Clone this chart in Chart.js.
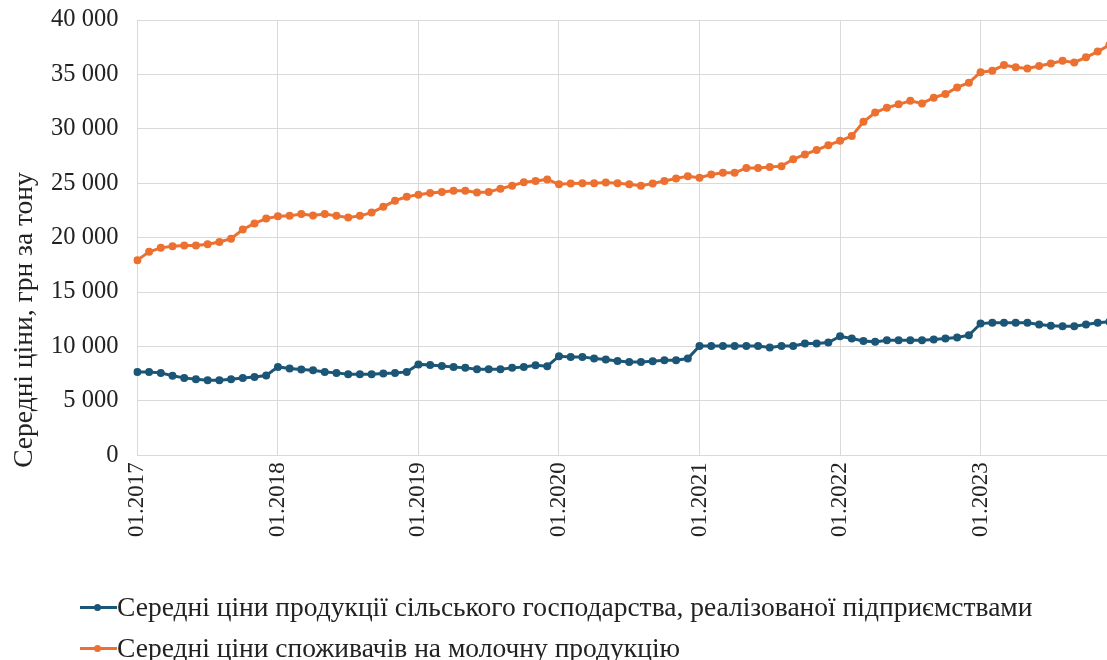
<!DOCTYPE html>
<html lang="uk">
<head>
<meta charset="utf-8">
<script src="https://cdn.jsdelivr.net/npm/chart.js@4.4.1/dist/chart.umd.min.js"></script>
<style>
    html, body { margin: 0; padding: 0; background: #fff; overflow: hidden; }
    #wrap { position: relative; width: 1144px; height: 660px; }
    #legend { position: absolute; left: 80px; top: 586px; font-family: 'Liberation Serif', 'Times New Roman', serif; font-size: 27.5px; color: #222; }
    .row { display: flex; align-items: center; height: 41px; white-space: nowrap; }
    .sym { position: relative; width: 37px; height: 20px; margin-right: 0; }
    .sym::before { content: ''; position: absolute; left: 0; right: 0; top: 9px; height: 3px; background: var(--c); }
    .sym::after { content: ''; position: absolute; left: 14px; top: 7px; width: 7px; height: 7px; border-radius: 50%; background: var(--c); }
</style>
</head>
<body>
<div id="wrap">
    <canvas id="chart"></canvas>
    <div id="legend"></div>
</div>
<script>
// --- data, monthly 01.2017 .. 12.2023 ---
const years = [2017, 2018, 2019, 2020, 2021, 2022, 2023];
const months = years.flatMap(y => Array.from({ length: 12 }, (_, i) => String(i + 1).padStart(2, '0') + '.' + y));

const producerPrices = [
    7660, 7660, 7570, 7300, 7110, 6990, 6900, 6900, 6990, 7110, 7200, 7330,
    8120, 7970, 7880, 7820, 7660, 7570, 7450, 7450, 7450, 7510, 7570, 7660,
    8350, 8300, 8210, 8120, 8030, 7900, 7900, 7900, 8030, 8120, 8280, 8180,
    9100, 9040, 9040, 8890, 8800, 8670, 8580, 8580, 8640, 8740, 8740, 8890,
    10050, 10050, 10050, 10050, 10050, 10050, 9900, 10050, 10050, 10270, 10270, 10360,
    10940, 10730, 10510, 10420, 10570, 10570, 10570, 10570, 10640, 10730, 10820, 11030,
    12100, 12170, 12170, 12170, 12170, 12020, 11900, 11860, 11860, 12020, 12170, 12260
];

const consumerPrices = [
    17930, 18700, 19060, 19200, 19280, 19280, 19400, 19600, 19900, 20750, 21300, 21750,
    21970, 22000, 22160, 22040, 22160, 22000, 21850, 22000, 22300, 22830, 23400, 23760,
    23950, 24100, 24200, 24300, 24300, 24150, 24200, 24500, 24770, 25100, 25200, 25350,
    24900, 24980, 25000, 25000, 25070, 25000, 24900, 24770, 24980, 25200, 25440, 25650,
    25500, 25800, 25960, 25960, 26400, 26400, 26500, 26570, 27200, 27650, 28050, 28500,
    28900, 29330, 30650, 31500, 31940, 32250, 32580, 32330, 32860, 33200, 33800, 34240,
    35200, 35340, 35860, 35650, 35550, 35770, 36000, 36260, 36100, 36570, 37100, 37700
];

const seriesNames = [
    'Середні ціни продукції сільського господарства, реалізованої підприємствами',
    'Середні ціни споживачів на молочну продукцію'
];
const seriesColors = ['#1b5677', '#ec7130'];
const yTicks = [0, 5000, 10000, 15000, 20000, 25000, 30000, 35000, 40000];
const yTitle = 'Середні ціни, грн за тону';

const serif = "'Liberation Serif', 'Times New Roman', serif";
const textColor = '#222';
const gridColor = '#d9d9d9';

const fmt = v => String(v).replace(/\B(?=(\d{3})+(?!\d))/g, ' ');

// y title drawn by hand so it sits where the original puts it
const yTitlePlugin = {
    id: 'yTitle',
    afterDraw(chart) {
        const ctx = chart.ctx;
        ctx.save();
        ctx.translate(25, 320);
        ctx.rotate(-Math.PI / 2);
        ctx.font = '27.5px ' + serif;
        ctx.fillStyle = textColor;
        ctx.textAlign = 'center';
        ctx.textBaseline = 'middle';
        ctx.fillText(yTitle, 0, 0);
        ctx.restore();
    }
};

const ctx = document.getElementById('chart').getContext('2d');
new Chart(ctx, {
    type: 'line',
    data: {
        labels: months,
        datasets: [producerPrices, consumerPrices].map((d, i) => ({
            label: seriesNames[i],
            data: d,
            borderColor: seriesColors[i],
            backgroundColor: seriesColors[i],
            borderWidth: 3,
            pointRadius: 4,
            pointBorderWidth: 0,
            tension: 0
        }))
    },
    options: {
        responsive: true,
        maintainAspectRatio: false,
        animation: false,
        layout: { padding: { left: 32, top: 20, right: 0, bottom: 116 } },
        plugins: {
            legend: { display: false },
            tooltip: { enabled: false }
        },
        scales: {
            x: {
                offset: false,
                grid: {
                    drawTicks: false,
                    color: c => (c.index % 12 === 0 ? gridColor : 'transparent')
                },
                border: { color: gridColor },
                ticks: {
                    autoSkip: false,
                    maxRotation: 90,
                    minRotation: 90,
                    padding: 7,
                    color: textColor,
                    font: { family: serif, size: 23 },
                    callback: function (v, i) { return i % 12 === 0 ? months[i] : ''; }
                }
            },
            y: {
                min: 0,
                max: 40000,
                afterBuildTicks: axis => { axis.ticks = yTicks.map(v => ({ value: v })); },
                afterFit: s => { s.paddingTop = 0; s.paddingBottom = 0; },
                grid: { drawTicks: false, color: gridColor },
                border: { display: false },
                ticks: {
                    padding: 19,
                    color: textColor,
                    font: { family: serif, size: 24.5 },
                    callback: v => fmt(v)
                }
            }
        }
    },
    plugins: [yTitlePlugin]
});

// legend rows, left aligned like the original
const legend = document.getElementById('legend');
seriesNames.forEach((name, i) => {
    const row = document.createElement('div');
    row.className = 'row';
    row.innerHTML = '<span class="sym" style="--c:' + seriesColors[i] + '"></span><span>' + name + '</span>';
    legend.appendChild(row);
});
</script>
</body>
</html>
